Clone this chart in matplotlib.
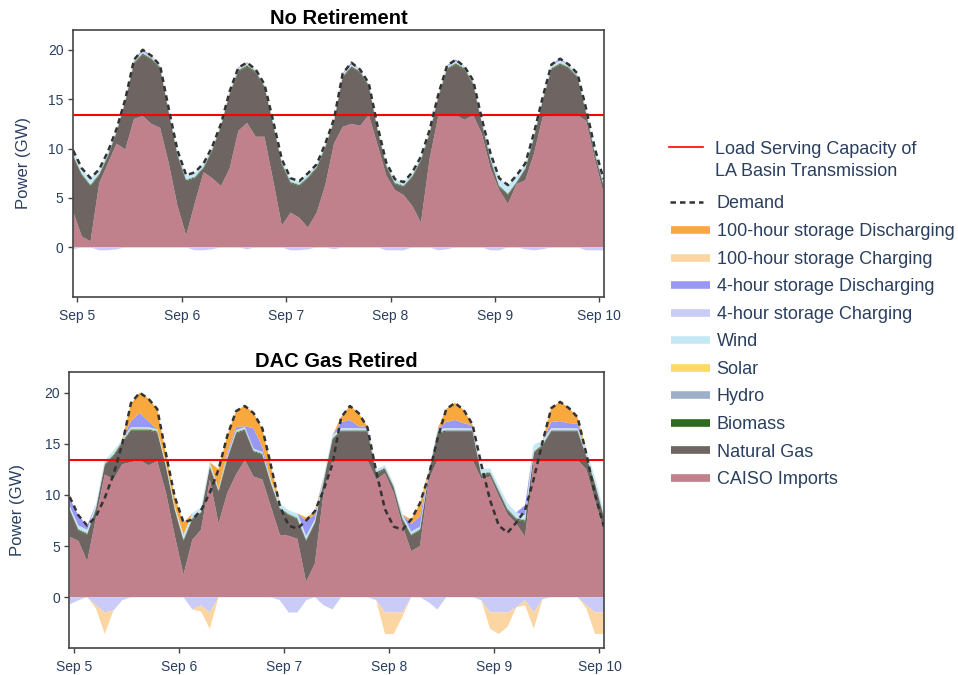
import matplotlib
matplotlib.use('Agg')
import matplotlib.pyplot as plt

plt.rcParams['font.family'] = ['Liberation Sans', 'DejaVu Sans']

# ---------------- data ----------------
hours = list(range(-1, 122, 2))          # hours after Sep 5 00:00, 2-hour steps
tick_hours = [0, 24, 48, 72, 96, 120]
tick_labels = ['Sep 5', 'Sep 6', 'Sep 7', 'Sep 8', 'Sep 9', 'Sep 10']
y_ticks = [0, 5, 10, 15, 20]
capacity = 13.4

demand = [9.8, 8.0, 7.0, 7.9, 9.7, 12.0, 15.0, 19.0, 20.0, 19.4,
          18.4, 14.0, 9.8, 7.3, 7.6, 8.5, 10.2, 12.5, 15.8, 18.2,
          18.7, 18.0, 16.5, 12.8, 8.9, 7.0, 6.7, 7.5, 8.4, 10.5,
          13.0, 17.6, 18.7, 18.0, 16.6, 12.3, 8.6, 6.9, 6.6, 7.6,
          9.2, 11.9, 15.5, 18.4, 19.0, 18.3, 16.9, 13.0, 9.5, 7.0,
          6.3, 7.3, 8.5, 11.6, 15.2, 18.5, 19.1, 18.5, 17.6, 14.0,
          10.0, 6.9]

biomass = [0.1, 0.1, 0.1, 0.1, 0.1, 0.1, 0.1, 0.1, 0.1, 0.1,
           0.1, 0.1, 0.1, 0.1, 0.1, 0.1, 0.1, 0.1, 0.1, 0.1,
           0.1, 0.1, 0.1, 0.1, 0.1, 0.1, 0.1, 0.1, 0.1, 0.1,
           0.1, 0.1, 0.1, 0.1, 0.1, 0.1, 0.1, 0.1, 0.1, 0.1,
           0.1, 0.1, 0.1, 0.1, 0.1, 0.1, 0.1, 0.1, 0.1, 0.1,
           0.1, 0.1, 0.1, 0.1, 0.1, 0.1, 0.1, 0.1, 0.1, 0.1,
           0.1, 0.1]
hydro = [0.1, 0.1, 0.1, 0.1, 0.1, 0.1, 0.1, 0.1, 0.1, 0.1,
         0.1, 0.1, 0.1, 0.1, 0.1, 0.1, 0.1, 0.1, 0.1, 0.1,
         0.1, 0.1, 0.1, 0.1, 0.1, 0.1, 0.1, 0.1, 0.1, 0.1,
         0.1, 0.1, 0.1, 0.1, 0.1, 0.1, 0.1, 0.1, 0.1, 0.1,
         0.1, 0.1, 0.1, 0.1, 0.1, 0.1, 0.1, 0.1, 0.1, 0.1,
         0.1, 0.1, 0.1, 0.1, 0.1, 0.1, 0.1, 0.1, 0.1, 0.1,
         0.1, 0.1]
solar = [0, 0, 0, 0, 0, 0.02, 0.03, 0.03, 0.03, 0.02,
         0, 0, 0, 0, 0, 0, 0, 0.02, 0.03, 0.03,
         0.03, 0.02, 0, 0, 0, 0, 0, 0, 0, 0.02,
         0.03, 0.03, 0.03, 0.02, 0, 0, 0, 0, 0, 0,
         0, 0.02, 0.03, 0.03, 0.03, 0.02, 0, 0, 0, 0,
         0, 0, 0, 0.02, 0.03, 0.03, 0.03, 0.02, 0, 0,
         0, 0]

# --- No Retirement ---
imports_nr = [3.6, 1.1, 0.6, 6.5, 8.5, 10.5, 9.9, 13.0, 13.3, 12.5,
              12.1, 8.5, 4.2, 1.2, 4.5, 7.6, 7.0, 6.2, 8.0, 11.8,
              12.6, 11.2, 11.2, 6.8, 2.2, 3.5, 3.0, 2.0, 3.5, 6.3,
              10.5, 12.2, 12.5, 12.3, 13.4, 10.4, 7.3, 5.8, 5.3, 4.2,
              2.5, 9.0, 13.3, 13.4, 13.4, 12.9, 13.4, 11.5, 8.0, 5.8,
              4.4, 6.4, 6.8, 9.5, 13.2, 13.4, 13.4, 13.4, 13.4, 12.8,
              8.9, 5.5]
gas_nr = [5.6, 6.2, 5.6, 0.8, 0.7, 1.1, 4.8, 5.6, 6.2, 6.5,
          6.0, 5.1, 5.1, 5.5, 2.5, 0.4, 2.8, 6.0, 7.5, 6.0,
          5.7, 6.5, 5.0, 5.6, 6.2, 3.0, 3.2, 5.0, 4.5, 3.8,
          2.2, 5.0, 5.7, 5.4, 2.9, 1.5, 0.9, 0.6, 0.8, 2.9,
          6.3, 2.5, 1.9, 4.6, 5.1, 5.1, 3.1, 1.0, 0.8, 0.3,
          0.9, 0.1, 1.1, 1.6, 1.6, 4.6, 5.1, 4.7, 3.8, 0.7,
          0.5, 0.7]
wind_nr = [0.4, 0.5, 0.6, 0.4, 0.3, 0.2, 0.1, 0.1, 0.1, 0.1,
           0.1, 0.2, 0.3, 0.4, 0.4, 0.3, 0.2, 0.1, 0.1, 0.1,
           0.1, 0.1, 0.1, 0.2, 0.3, 0.3, 0.3, 0.3, 0.2, 0.2,
           0.1, 0.1, 0.1, 0.1, 0.1, 0.2, 0.2, 0.3, 0.3, 0.3,
           0.2, 0.2, 0.1, 0.1, 0.1, 0.1, 0.2, 0.3, 0.5, 0.7,
           0.8, 0.6, 0.4, 0.3, 0.2, 0.2, 0.2, 0.2, 0.2, 0.3,
           0.4, 0.5]
dis4_nr = [0, 0, 0, 0, 0, 0, 0, 0.1, 0.2, 0.1,
           0, 0, 0, 0, 0, 0, 0, 0, 0, 0.1,
           0.1, 0, 0, 0, 0, 0, 0, 0, 0, 0,
           0, 0.1, 0.2, 0, 0, 0, 0, 0, 0, 0,
           0, 0, 0, 0.1, 0.2, 0, 0, 0, 0, 0,
           0, 0, 0, 0, 0, 0.1, 0.2, 0, 0, 0,
           0, 0]
chg4_nr = [-0.2, 0, 0, -0.3, -0.3, -0.2, 0, 0, 0, 0,
           0, 0, 0, 0, -0.3, -0.3, -0.2, 0, 0, 0,
           -0.2, 0, 0, 0, 0, -0.3, -0.3, -0.2, 0, 0,
           -0.2, 0, 0, 0, 0, 0, -0.3, -0.3, -0.3, 0,
           0, 0, -0.3, -0.2, 0, 0, 0, 0, -0.3, -0.3,
           0, 0, -0.2, -0.3, -0.2, 0, 0, 0, 0, -0.3,
           -0.3, -0.3]

# --- DAC Gas Retired ---
imports_dr = [5.9, 5.5, 3.5, 7.8, 12.0, 11.5, 13.0, 13.2, 13.4, 12.9,
              13.3, 10.2, 6.0, 2.2, 5.6, 6.6, 11.5, 7.2, 10.2, 12.0,
              13.4, 11.8, 11.5, 8.8, 6.1, 6.0, 5.7, 1.5, 3.3, 10.3,
              13.4, 13.4, 13.4, 13.4, 13.4, 11.5, 12.1, 10.2, 7.0, 4.5,
              5.0, 11.5, 13.4, 13.4, 13.4, 13.4, 13.4, 11.6, 11.8, 9.9,
              8.1, 7.2, 5.9, 13.4, 13.4, 13.4, 13.4, 13.4, 13.4, 12.5,
              9.4, 6.6]
gas_dr = [2.6, 1.0, 2.6, 0.8, 0.9, 2.3, 2.1, 3.1, 2.9, 3.4,
          2.8, 2.5, 2.5, 3.3, 2.0, 1.6, 1.2, 3.1, 3.3, 4.0,
          2.9, 2.4, 2.4, 2.2, 2.5, 2.0, 1.9, 4.0, 3.9, 1.0,
          2.0, 2.8, 2.8, 2.8, 2.8, 0.6, 0.4, 0.5, 0.6, 1.5,
          1.5, 0.5, 2.6, 2.8, 2.8, 2.8, 2.8, 0.3, 0.3, 0.4,
          0.4, 0.4, 1.5, 0.7, 1.4, 2.8, 2.8, 2.8, 2.8, 1.2,
          1.6, 1.2]
wind_dr = [0.2, 0.3, 0.3, 0.3, 0.3, 0.3, 0.1, 0.1, 0.1, 0.1,
           0.1, 0.2, 0.2, 0.4, 0.4, 0.4, 0.3, 0.1, 0.1, 0.1,
           0.1, 0.1, 0.1, 0.2, 0.4, 0.3, 0.4, 0.3, 0.2, 0.3,
           0.2, 0.1, 0.1, 0.1, 0.1, 0.2, 0.2, 0.2, 0.3, 0.2,
           0.2, 0.2, 0.2, 0.1, 0.1, 0.1, 0.1, 0.4, 0.3, 0.4,
           0.5, 0.5, 0.4, 0.6, 0.3, 0.1, 0.1, 0.1, 0.1, 0.5,
           0.5, 0.4]
dis4_dr = [0.8, 1.0, 0.4, 0, 0, 0, 0, 0.6, 1.4, 0.6,
           0, 0, 0, 0, 0, 0, 0, 0, 0.3, 0.3,
           0.1, 2.0, 0.5, 0, 0, 0, 0, 1.5, 0.5, 0,
           0, 0.6, 0.8, 0.2, 0.2, 0, 0, 0, 0, 0.8,
           1.0, 0, 0, 0.6, 0.8, 0.5, 0.3, 0, 0, 0,
           0, 0, 1.0, 0, 0, 0.6, 0.7, 0.5, 0.5, 0,
           0, 0]
dis100_dr = [0, 0, 0, 0, 0, 0, 0, 1.7, 2.0, 2.2,
             2.0, 0.9, 0.9, 1.2, 0, 0, 0, 1.9, 1.7, 1.6,
             2.0, 1.5, 1.8, 1.4, 0, 0, 0, 0.3, 0.3, 0,
             0, 0.5, 1.4, 1.3, 0, 0, 0, 0, 0, 0.4,
             1.3, 0, 0, 1.3, 1.7, 1.3, 0.1, 0, 0, 0,
             0, 0, 0, 0, 0, 1.4, 1.9, 1.5, 0.6, 0,
             0, 0]
chg4_dr = [-0.7, -0.3, 0, -0.8, -1.5, -1.3, -0.3, 0, 0, 0,
           0, 0, 0, 0, -1.2, -0.8, -1.5, 0, 0, 0,
           0, 0, 0, 0, -0.3, -1.5, -1.5, -0.3, 0, -0.8,
           -1.2, 0, 0, 0, 0, -0.3, -1.5, -1.5, -1.5, 0,
           0, -0.5, -1.2, 0, 0, 0, 0, -0.3, -1.5, -1.5,
           -1.5, -1.0, -0.3, -1.5, -0.2, 0, 0, 0, 0, -0.8,
           -1.5, -1.5]
chg100_dr = [0, 0, 0, -0.3, -2.1, 0, 0, 0, 0, 0,
             0, 0, 0, 0, 0, -0.6, -1.6, 0, 0, 0,
             0, 0, 0, 0, 0, 0, 0, 0, 0, 0,
             0, 0, 0, 0, 0, 0, -2.1, -2.1, -0.4, 0,
             0, 0, 0, 0, 0, 0, 0, 0, -1.6, -2.1,
             -1.4, 0, -0.5, -1.6, 0, 0, 0, 0, 0, -0.3,
             -2.1, -2.1]

legend_names = ['100-hour storage Discharging', '100-hour storage Charging',
                '4-hour storage Discharging', '4-hour storage Charging',
                'Wind', 'Solar', 'Hydro', 'Biomass', 'Natural Gas', 'CAISO Imports']

# ---------------- style ----------------
C_IMP = '#C0808C'
C_GAS = '#6E6462'
C_BIO = '#2E6B1E'
C_HYD = '#9EB0C8'
C_SOL = '#FDD866'
C_WIND = '#C5E8F6'
C_D4 = '#9999F5'
C_C4 = '#CBCBF8'
C_D100 = '#F9A83E'
C_C100 = '#FCD6A2'
legend_colors = [C_D100, C_C100, C_D4, C_C4, C_WIND, C_SOL, C_HYD, C_BIO, C_GAS, C_IMP]
TXT = '#2A3F5F'
SPINE = '#444444'

fig = plt.figure(figsize=(9.58, 6.75), dpi=100)
ax1 = fig.add_axes([0.0759, 0.5604, 0.5546, 0.3951])
ax2 = fig.add_axes([0.0723, 0.0396, 0.5585, 0.4089])


def draw(ax, pos, pos_colors, neg, neg_colors, title, ylab_x):
    ax.stackplot(hours, *pos, colors=pos_colors, linewidth=0, zorder=1)
    ax.stackplot(hours, *neg, colors=neg_colors, linewidth=0, zorder=1)
    ax.axhline(capacity, color='#FF0000', lw=1.5, zorder=3)
    ax.plot(hours, demand, color='#333333', lw=1.8, dashes=(2.2, 1.6), zorder=4)
    ax.set_xlim(-1.1, 121.1)
    ax.set_ylim(-5, 22)
    ax.set_xticks(tick_hours)
    ax.set_xticklabels(tick_labels)
    ax.set_yticks(y_ticks)
    ax.tick_params(axis='both', direction='out', length=3.6, width=1.0,
                   color=SPINE, labelcolor=TXT, labelsize=10)
    ax.tick_params(axis='x', pad=5)
    ax.tick_params(axis='y', pad=3)
    for s in ax.spines.values():
        s.set_color(SPINE)
        s.set_linewidth(1.2)
    ax.set_title(title, fontsize=14.5, fontweight='bold', color='black', pad=4)
    ax.set_ylabel('Power (GW)', fontsize=12, color=TXT)
    ax.yaxis.set_label_coords(ylab_x, 0.5)


draw(ax1,
     [imports_nr, gas_nr, biomass, hydro, solar, wind_nr, dis4_nr],
     [C_IMP, C_GAS, C_BIO, C_HYD, C_SOL, C_WIND, C_D4],
     [chg4_nr], [C_C4],
     'No Retirement', -0.079)
draw(ax2,
     [imports_dr, gas_dr, biomass, hydro, solar, wind_dr, dis4_dr, dis100_dr],
     [C_IMP, C_GAS, C_BIO, C_HYD, C_SOL, C_WIND, C_D4, C_D100],
     [chg4_dr, chg100_dr], [C_C4, C_C100],
     'DAC Gas Retired', -0.083)

# ---------------- legend (drawn in pixel coordinates) ----------------
lax = fig.add_axes([0, 0, 1, 1])
lax.set_xlim(0, 958)
lax.set_ylim(675, 0)
lax.axis('off')
lax.patch.set_alpha(0)

lax.plot([669.3, 703.3], [146.5, 146.5], color='#FF0000', lw=1.2)
lax.text(714.7, 147.3 + 6.3, 'Load Serving Capacity of', fontsize=13, color=TXT, va='baseline')
lax.text(714.7, 169.3 + 6.3, 'LA Basin Transmission', fontsize=13, color=TXT, va='baseline')
lax.plot([670, 703], [201.7, 201.7], color='#333333', lw=1.8, dashes=(2.2, 1.6))
lax.text(716.7, 201.7 + 6.3, 'Demand', fontsize=13, color=TXT, va='baseline')
for k, (name, col) in enumerate(zip(legend_names, legend_colors)):
    yy = 230 + 27.53 * k
    lax.plot([670.7, 710], [yy, yy], color=col, lw=5.5, solid_capstyle='butt')
    lax.text(716.7, yy + 6.3, name, fontsize=13, color=TXT, va='baseline')

fig.savefig('out.png', dpi=100)
